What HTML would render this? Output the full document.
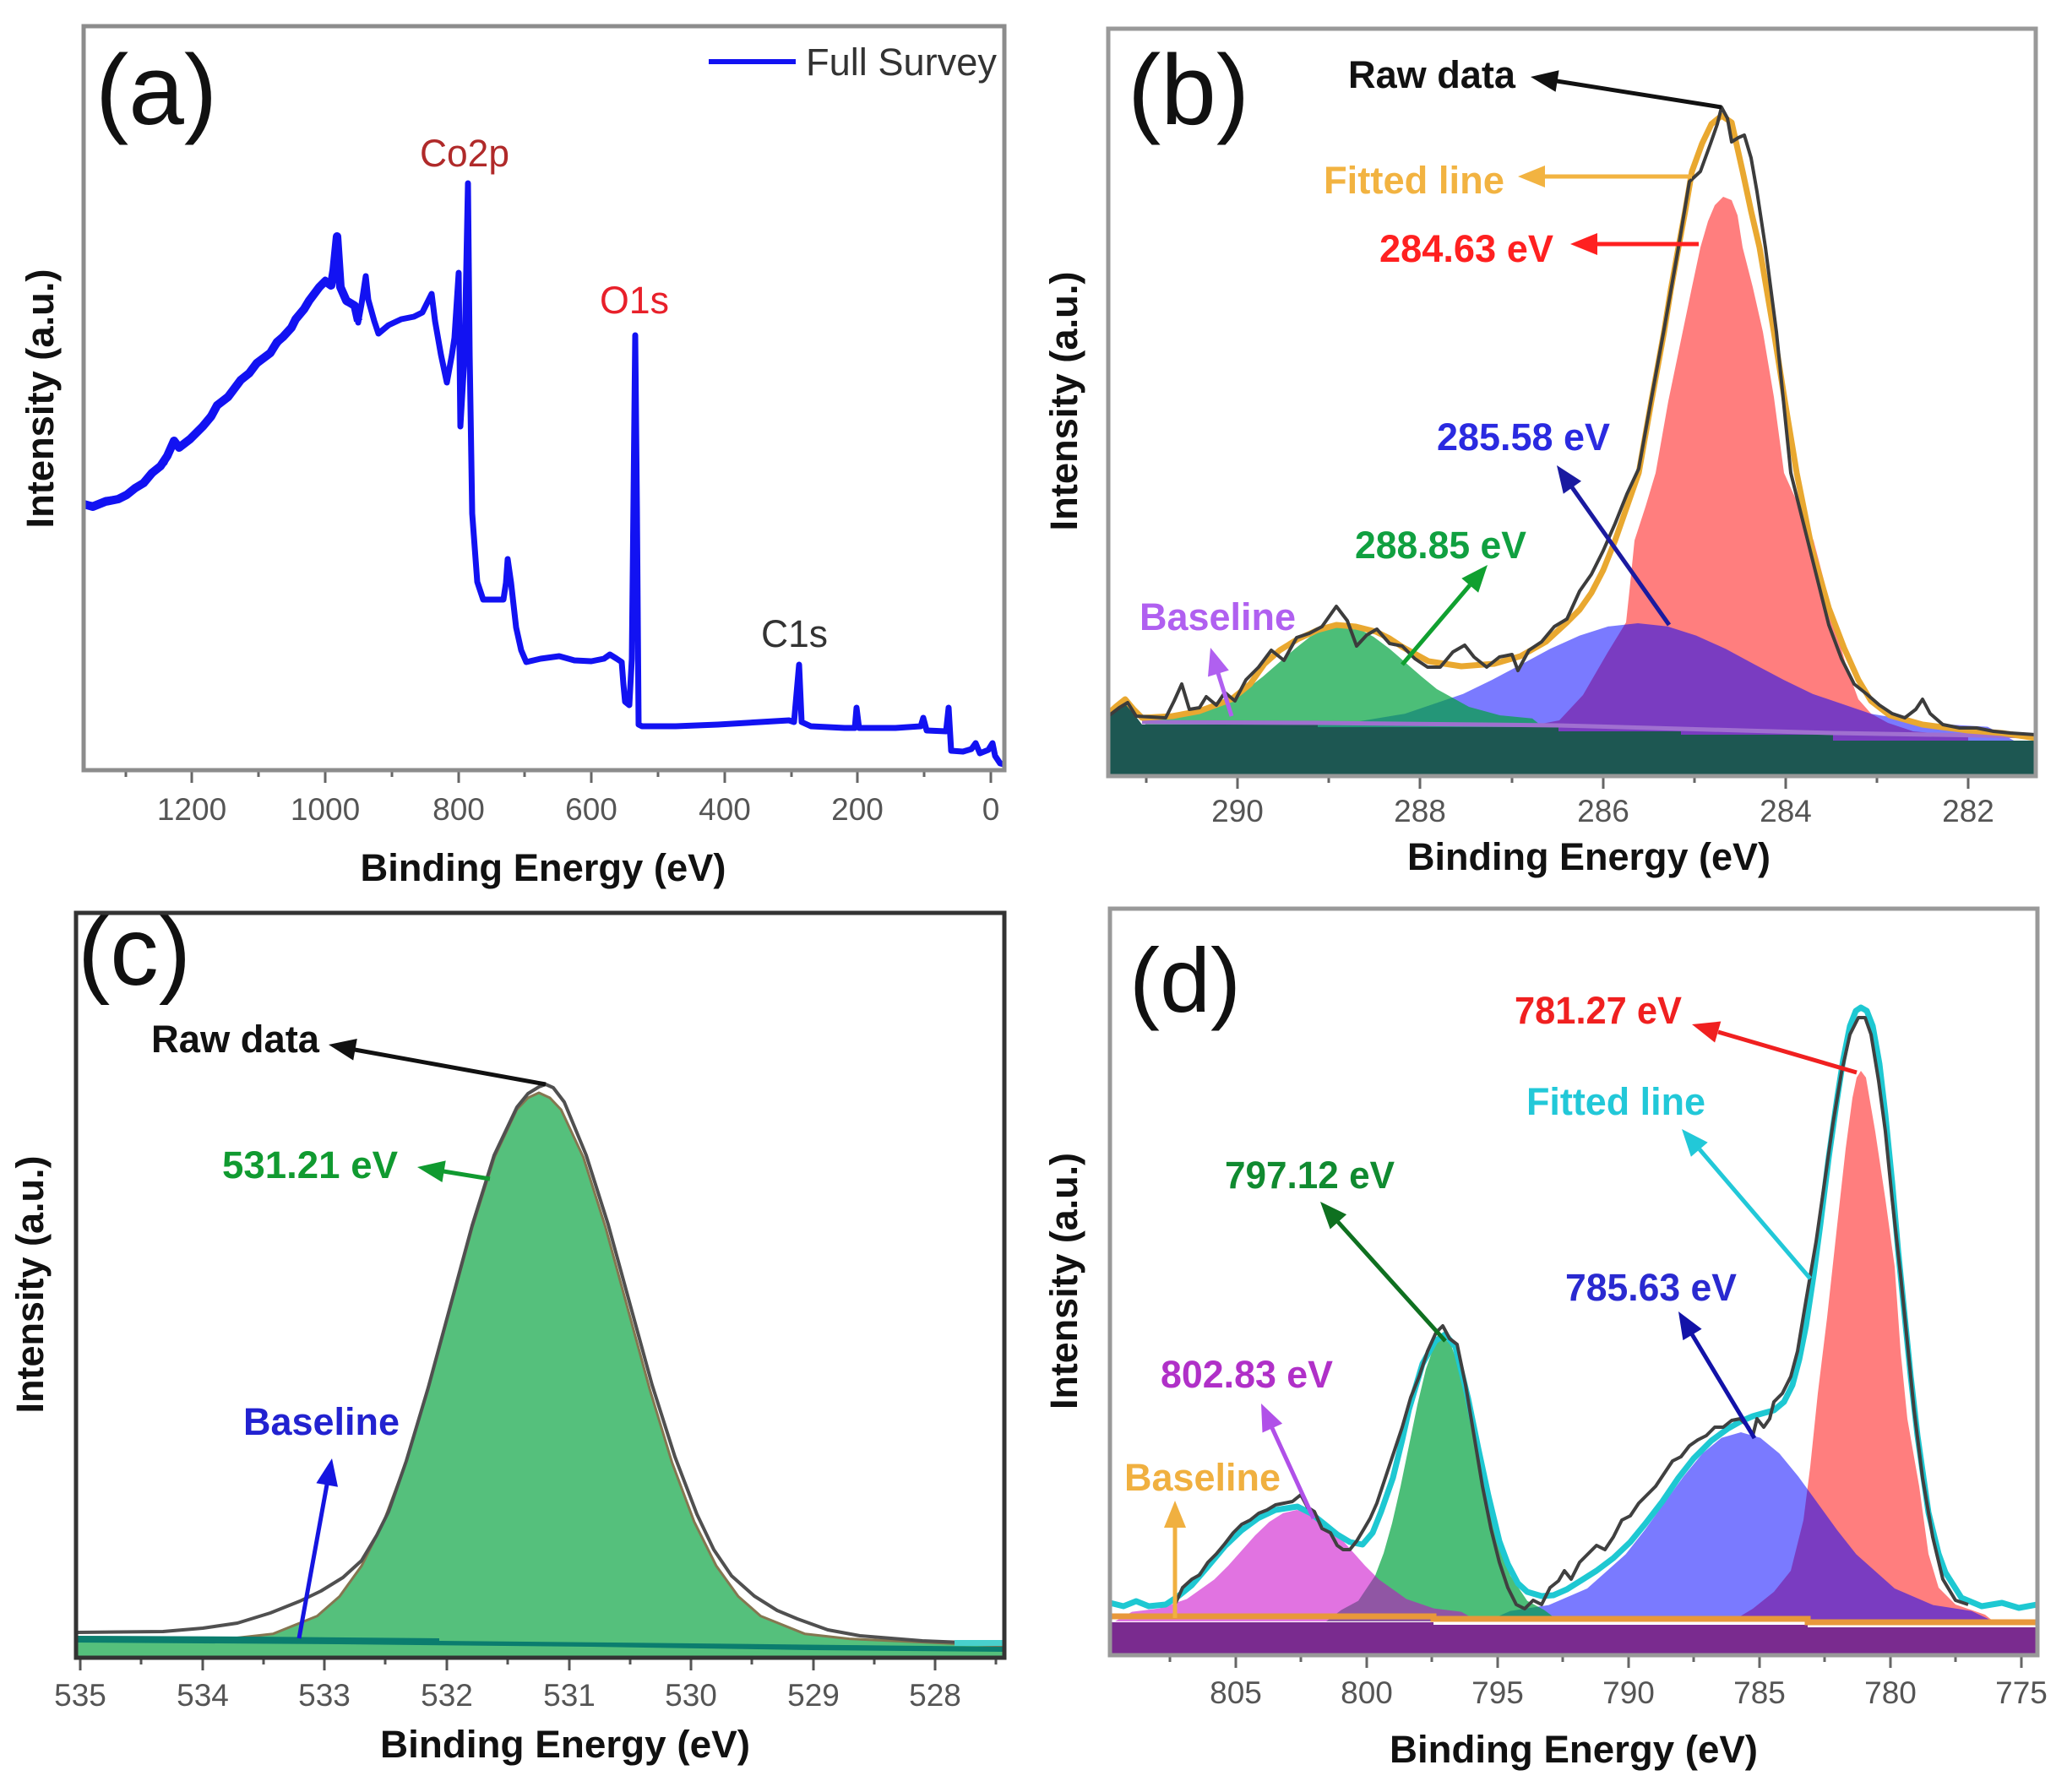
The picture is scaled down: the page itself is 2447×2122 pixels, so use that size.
<!DOCTYPE html>
<html><head><meta charset="utf-8"><style>
html,body{margin:0;padding:0;background:#fff;}
body{width:2447px;height:2122px;overflow:hidden;}
svg{display:block;}
.tl{font-family:"Liberation Sans",Arial,sans-serif;font-size:37px;fill:#555;text-anchor:middle;}
.at{font-family:"Liberation Sans",Arial,sans-serif;font-size:45px;font-weight:bold;fill:#111;text-anchor:middle;}
.an{font-family:"Liberation Sans",Arial,sans-serif;font-size:45px;font-weight:bold;}
.pl{font-family:"Liberation Sans",Arial,sans-serif;fill:#111;}
.lab{font-family:"Liberation Sans",Arial,sans-serif;font-size:45px;}
</style></head><body>
<svg width="2447" height="2122" viewBox="0 0 2447 2122" xmlns="http://www.w3.org/2000/svg">
<defs>
<clipPath id="ca"><rect x="99" y="31" width="1090" height="881"/></clipPath>
<clipPath id="cb"><rect x="1312" y="34" width="1098" height="885"/></clipPath>
<clipPath id="cc"><rect x="90" y="1081" width="1099" height="882"/></clipPath>
<clipPath id="cd"><rect x="1314" y="1076" width="1098" height="884"/></clipPath>
</defs>
<rect width="2447" height="2122" fill="#fff"/>

<!-- ================= (a) ================= -->
<g clip-path="url(#ca)">
<polyline fill="none" stroke="#1212f2" stroke-width="10" stroke-linejoin="round" points="99,597 110,600 125,594 140,591 150,586 160,578 170,572 180,560 190,552 198,540 206,522 212,530 225,520 240,505 250,493 257,480 270,470 285,450 295,442 304,430 320,418 328,405 335,399 345,388 350,378 360,366 366,356 378,340 385,333 392,338 395,320 399,280 403,340 410,356 420,362 424,380"/>
<polyline fill="none" stroke="#1212f2" stroke-width="7" stroke-linejoin="round" points="99,597 110,598 125,592 140,590 150,585 165,575 180,562 195,548 202,530 206,522 212,528 225,520 240,505 257,480 270,468 285,450 304,432 320,418 335,399 350,380 366,358 378,340 385,331 392,338 399,280 403,340 410,358 420,362 424,382 428,360 433,327 436,355 443,380 448,395 460,385 475,378 490,375 500,370 511,348 515,380 522,420 529,453 535,420 538,400 543,323 545,505 550,420 554,217 556,420 559,608 565,689 572,710 596,710 599,690 601,662 605,690 611,743 617,770 623,784 640,780 662,777 680,782 700,783 715,780 722,775 730,780 736,784 738,810 740,831 745,835 748,780 752,397 754,600 756,858 760,860 800,860 850,858 900,855 934,853 940,855 946,787 949,855 960,860 1000,862 1012,862 1014,838 1017,862 1060,862 1090,860 1093,850 1097,865 1120,866 1123,838 1126,889 1140,890 1150,887 1155,880 1160,892 1170,888 1175,880 1178,895 1184,904 1192,906"/>
</g>
<line x1="839" y1="73" x2="942" y2="73" stroke="#1212f2" stroke-width="6"/>
<text class="lab" x="954" y="89" fill="#333" textLength="226" lengthAdjust="spacingAndGlyphs">Full Survey</text>
<text class="lab" x="497" y="197" fill="#b02a2a" textLength="106" lengthAdjust="spacingAndGlyphs">Co2p</text>
<text class="lab" x="710" y="371" fill="#e8202a" textLength="82" lengthAdjust="spacingAndGlyphs">O1s</text>
<text class="lab" x="901" y="766" fill="#333" textLength="79" lengthAdjust="spacingAndGlyphs">C1s</text>
<text class="pl" x="113" y="147" font-size="118">(a)</text>
<g stroke="#666" stroke-width="3">
<line x1="1173" y1="912" x2="1173" y2="927"/><line x1="1015" y1="912" x2="1015" y2="927"/><line x1="858" y1="912" x2="858" y2="927"/><line x1="700" y1="912" x2="700" y2="927"/><line x1="543" y1="912" x2="543" y2="927"/><line x1="385" y1="912" x2="385" y2="927"/><line x1="227" y1="912" x2="227" y2="927"/>
<line x1="1094" y1="912" x2="1094" y2="920"/><line x1="937" y1="912" x2="937" y2="920"/><line x1="779" y1="912" x2="779" y2="920"/><line x1="621" y1="912" x2="621" y2="920"/><line x1="464" y1="912" x2="464" y2="920"/><line x1="306" y1="912" x2="306" y2="920"/><line x1="149" y1="912" x2="149" y2="920"/>
</g>
<text class="tl" x="1173" y="971">0</text><text class="tl" x="1015" y="971">200</text><text class="tl" x="858" y="971">400</text><text class="tl" x="700" y="971">600</text><text class="tl" x="543" y="971">800</text><text class="tl" x="385" y="971">1000</text><text class="tl" x="227" y="971">1200</text>
<text class="at" x="643" y="1043" textLength="433" lengthAdjust="spacingAndGlyphs">Binding Energy (eV)</text>
<text class="at" transform="translate(63,472) rotate(-90)" textLength="307" lengthAdjust="spacingAndGlyphs">Intensity (a.u.)</text>
<rect x="99" y="31" width="1090" height="881" fill="none" stroke="#8c8c8c" stroke-width="5"/>

<!-- ================= (b) ================= -->
<g clip-path="url(#cb)">
<polygon fill="#ff7e7e" points="1780,880 1780,864 1820,858 1846,853 1874,823 1903,773 1925,737 1930,690 1935,640 1948,600 1960,560 1975,475 1992,393 2003,340 2013,293 2022,262 2030,243 2040,233 2050,237 2057,255 2063,293 2075,340 2087,393 2100,470 2112,560 2130,600 2147,640 2160,690 2172,740 2186,790 2200,828 2215,845 2235,856 2265,866 2330,872 2330,880"/>
<polygon fill="#0000ff" fill-opacity="0.52" points="1487,880 1525,860.6 1594,856.6 1663,845.2 1732,821.7 1766,805.2 1801,786.8 1835,768.4 1870,752.6 1904,741.8 1939,738 1974,741.8 2008,752.6 2043,768.4 2077,786.8 2112,805.2 2146,821.7 2215,845.2 2284,856.6 2353,860.6 2390,880"/>
<polygon fill="#00a33e" fill-opacity="0.7" points="1330,880 1364,850.8 1401,847.1 1439,837 1476,816 1495,801.2 1514,784.7 1533,768.2 1551,754 1570,744.4 1589,741 1608,744.4 1626,754 1645,768.2 1664,784.7 1683,801.2 1701,816 1739,837 1776,847.1 1814,850.8 1850,880"/>
<polygon fill="#1d5752" points="1312,919 1312,852 1322,838 1332,830 1342,845 1352,858 1560,858 1560,861 1845,861 1845,866 1990,866 1990,870 2170,870 2170,877 2410,877 2410,919"/>
<polyline fill="none" stroke="#a070d0" stroke-width="5" points="1352,855 1560,856 1845,859 1990,863 2170,868 2410,872"/>
<polyline fill="none" stroke="#e9a830" stroke-width="7" stroke-linejoin="round" points="1312,845 1322,836 1332,828 1342,840 1352,850 1388,848 1420,842 1458,828 1480,810 1497,786 1515,770 1536,757 1560,746 1582,740 1605,742 1629,748 1645,756 1660,766 1691,783 1730,789 1769,786 1800,777 1830,760 1855,737 1870,722 1884,702 1898,675 1912,640 1926,600 1940,560 1955,475 1970,393 1978,343 1987,293 1995,250 2003,203 2015,170 2026,147 2038,137 2050,145 2063,203 2073,250 2083,293 2100,393 2113,475 2127,560 2145,650 2165,720 2183,767 2200,805 2215,830 2237,847 2276,858 2330,865 2370,868 2410,874"/>
<polyline fill="none" stroke="#3c3c3c" stroke-width="4" stroke-linejoin="round" points="1312,848 1325,838 1335,832 1345,848 1380,850 1390,830 1399,810 1408,840 1420,838 1428,825 1440,835 1450,820 1462,830 1475,805 1490,790 1505,770 1520,782 1535,755 1550,750 1565,742 1582,718 1595,735 1606,765 1618,752 1630,745 1645,762 1660,765 1675,780 1690,790 1705,790 1720,772 1734,764 1745,778 1760,790 1775,778 1790,775 1797,794 1810,770 1825,760 1840,742 1855,733 1870,700 1884,680 1898,652 1912,620 1926,585 1940,555 1955,472 1970,390 1987,293 2000,215 2013,203 2025,170 2033,147 2038,127 2045,140 2050,168 2058,163 2065,160 2073,187 2080,227 2090,293 2103,393 2120,560 2135,620 2150,680 2165,740 2180,780 2195,810 2210,822 2225,835 2240,845 2255,850 2268,840 2276,828 2285,845 2300,858 2320,862 2340,862 2360,866 2380,868 2410,870"/>
</g>
<!-- annotations b -->
<text class="an" x="1596" y="104" fill="#111" textLength="198" lengthAdjust="spacingAndGlyphs">Raw data</text>
<line x1="2038" y1="127" x2="1843" y2="96" stroke="#111" stroke-width="5"/>
<polygon fill="#111" points="1812,91 1845.6,83.2 1841.6,108.8"/>
<text class="an" x="1567" y="229" fill="#f2b341" textLength="214" lengthAdjust="spacingAndGlyphs">Fitted line</text>
<line x1="2003" y1="209" x2="1829" y2="209" stroke="#f2b341" stroke-width="5"/>
<polygon fill="#f2b341" points="1797,209 1829,196 1829,222"/>
<text class="an" x="1633" y="310" fill="#ff2020" textLength="206" lengthAdjust="spacingAndGlyphs">284.63 eV</text>
<line x1="2011" y1="289" x2="1891" y2="289" stroke="#ff2020" stroke-width="5"/>
<polygon fill="#ff2020" points="1859,289 1891,276 1891,302"/>
<text class="an" x="1701" y="533" fill="#2a2ae0" textLength="205" lengthAdjust="spacingAndGlyphs">285.58 eV</text>
<line x1="1976" y1="740" x2="1861" y2="577" stroke="#1a1aa0" stroke-width="5"/>
<polygon fill="#1a1aa0" points="1843,551 1872,569.7 1850.8,584.7"/>
<text class="an" x="1604" y="661" fill="#10a040" textLength="203" lengthAdjust="spacingAndGlyphs">288.85 eV</text>
<line x1="1660" y1="787" x2="1740" y2="693" stroke="#10a030" stroke-width="5"/>
<polygon fill="#10a030" points="1761,669 1750.1,701.8 1730.3,684.9"/>
<text class="an" x="1349" y="746" fill="#b060f0" textLength="185" lengthAdjust="spacingAndGlyphs">Baseline</text>
<line x1="1458" y1="848" x2="1442" y2="797" stroke="#b060f0" stroke-width="5"/>
<polygon fill="#b060f0" points="1433,767 1454.8,793.8 1430,801.4"/>
<text class="pl" x="1335" y="147" font-size="118">(b)</text>
<g stroke="#666" stroke-width="3">
<line x1="1465" y1="919" x2="1465" y2="934"/><line x1="1681" y1="919" x2="1681" y2="934"/><line x1="1898" y1="919" x2="1898" y2="934"/><line x1="2114" y1="919" x2="2114" y2="934"/><line x1="2330" y1="919" x2="2330" y2="934"/>
<line x1="1357" y1="919" x2="1357" y2="927"/><line x1="1573" y1="919" x2="1573" y2="927"/><line x1="1790" y1="919" x2="1790" y2="927"/><line x1="2006" y1="919" x2="2006" y2="927"/><line x1="2222" y1="919" x2="2222" y2="927"/>
</g>
<text class="tl" x="1465" y="973">290</text><text class="tl" x="1681" y="973">288</text><text class="tl" x="1898" y="973">286</text><text class="tl" x="2114" y="973">284</text><text class="tl" x="2330" y="973">282</text>
<text class="at" x="1881" y="1030" textLength="430" lengthAdjust="spacingAndGlyphs">Binding Energy (eV)</text>
<text class="at" transform="translate(1275,475) rotate(-90)" textLength="307" lengthAdjust="spacingAndGlyphs">Intensity (a.u.)</text>
<rect x="1312" y="34" width="1098" height="885" fill="none" stroke="#999" stroke-width="5"/>

<!-- ================= (c) ================= -->
<g clip-path="url(#cc)">
<polygon fill="#55c07c" points="90,1965 90,1942 270.5,1940.6 323,1934.8 375.5,1913.6 402,1890.4 428,1854.3 454.25,1801.8 480.5,1731.6 506.75,1645.3 533,1549 559.25,1452.9 585.5,1370.1 611.75,1314 625,1300 638,1294 651,1300 664.25,1314 690.5,1370.1 716.75,1452.9 743,1549 769.25,1645.3 795.5,1731.6 821.75,1801.8 848,1854.3 874,1890.4 900.5,1913.6 953,1934.8 1005.5,1940.6 1189,1950 1189,1965"/>
<polyline fill="none" stroke="#857650" stroke-width="3" stroke-linejoin="round" points="90,1941 270.5,1940.6 323,1934.8 375.5,1913.6 402,1890.4 428,1854.3 454.25,1801.8 480.5,1731.6 506.75,1645.3 533,1549 559.25,1452.9 585.5,1370.1 611.75,1314 625,1300 638,1294 651,1300 664.25,1314 690.5,1370.1 716.75,1452.9 743,1549 769.25,1645.3 795.5,1731.6 821.75,1801.8 848,1854.3 874,1890.4 900.5,1913.6 953,1934.8 1005.5,1940.6 1189,1949"/>
<polyline fill="none" stroke="#505050" stroke-width="4" stroke-linejoin="round" points="92,1933 193,1932 240,1928 281,1922 320,1910 355,1896 380,1884 406,1868 428,1848 446,1818 460,1790 481,1730 507,1643 533,1547 559,1451 585,1368 612,1311 625,1295 638,1287 646,1284 655,1288 668,1305 694,1368 720,1450 746,1545 772,1640 799,1725 825,1793 845,1835 866,1866 893,1890 920,1907 944,1917 980,1930 1018,1937 1092,1943 1189,1947"/>
<polygon fill="#0b7d6e" points="90,1937 300,1938 520,1940 520,1943 820,1946 1000,1948 1189,1950 1189,1956 960,1954 700,1950 400,1947 90,1945"/>
<rect x="1130" y="1942" width="59" height="7" fill="#48d0cc"/>
</g>
<text class="an" x="179" y="1246" fill="#111" textLength="199" lengthAdjust="spacingAndGlyphs">Raw data</text>
<line x1="646" y1="1284" x2="420" y2="1243" stroke="#111" stroke-width="5"/>
<polygon fill="#111" points="389,1237 422.8,1230 418.2,1255.6"/>
<text class="an" x="263" y="1395" fill="#109a30" textLength="208" lengthAdjust="spacingAndGlyphs">531.21 eV</text>
<line x1="580" y1="1396" x2="525" y2="1387" stroke="#109a30" stroke-width="5"/>
<polygon fill="#109a30" points="494,1382 527.7,1374.4 523.5,1400"/>
<text class="an" x="288" y="1699" fill="#2222d0" textLength="185" lengthAdjust="spacingAndGlyphs">Baseline</text>
<line x1="354" y1="1940" x2="387" y2="1758" stroke="#1515e0" stroke-width="5"/>
<polygon fill="#1515e0" points="393,1727 400,1760.8 374.4,1756.2"/>
<text class="pl" x="92" y="1166" font-size="115">(c)</text>
<g stroke="#555" stroke-width="3">
<line x1="95" y1="1963" x2="95" y2="1978"/><line x1="240" y1="1963" x2="240" y2="1978"/><line x1="384" y1="1963" x2="384" y2="1978"/><line x1="529" y1="1963" x2="529" y2="1978"/><line x1="674" y1="1963" x2="674" y2="1978"/><line x1="818" y1="1963" x2="818" y2="1978"/><line x1="963" y1="1963" x2="963" y2="1978"/><line x1="1107" y1="1963" x2="1107" y2="1978"/>
<line x1="167" y1="1963" x2="167" y2="1971"/><line x1="312" y1="1963" x2="312" y2="1971"/><line x1="456" y1="1963" x2="456" y2="1971"/><line x1="601" y1="1963" x2="601" y2="1971"/><line x1="746" y1="1963" x2="746" y2="1971"/><line x1="890" y1="1963" x2="890" y2="1971"/><line x1="1035" y1="1963" x2="1035" y2="1971"/><line x1="1179" y1="1963" x2="1179" y2="1971"/>
</g>
<text class="tl" x="95" y="2020">535</text><text class="tl" x="240" y="2020">534</text><text class="tl" x="384" y="2020">533</text><text class="tl" x="529" y="2020">532</text><text class="tl" x="674" y="2020">531</text><text class="tl" x="818" y="2020">530</text><text class="tl" x="963" y="2020">529</text><text class="tl" x="1107" y="2020">528</text>
<text class="at" x="669" y="2081" textLength="438" lengthAdjust="spacingAndGlyphs">Binding Energy (eV)</text>
<text class="at" transform="translate(51,1521) rotate(-90)" textLength="305" lengthAdjust="spacingAndGlyphs">Intensity (a.u.)</text>
<rect x="90" y="1081" width="1099" height="882" fill="none" stroke="#333" stroke-width="5"/>

<!-- ================= (d) ================= -->
<g clip-path="url(#cd)">
<polygon fill="#ff7e7e" points="2050,1920 2075,1905 2100,1885 2120,1860 2135,1800 2143,1737 2152,1650 2163,1560 2175,1450 2185,1360 2193,1300 2198,1276 2203,1268 2209,1276 2220,1340 2232,1420 2243,1500 2250,1600 2258,1680 2272,1760 2283,1840 2295,1880 2315,1900 2350,1912 2360,1920"/>
<polygon fill="#0000ff" fill-opacity="0.52" points="1760,1920 1788,1907.6 1833.5,1900.6 1879,1881 1924.5,1840.5 1947,1812 1970,1780.2 1993,1748.5 2015.5,1721.1 2038,1702.6 2061,1696 2084,1702.6 2106.5,1721.1 2129,1748.5 2152,1780.2 2175,1812 2197.5,1840.5 2243,1881 2288.5,1900.6 2334,1907.6 2360,1920"/>
<polygon fill="#00a33e" fill-opacity="0.7" points="1570,1920 1588,1906.4 1608,1895.6 1628,1865.8 1638,1839.3 1648,1803.8 1658,1760.3 1668,1711.7 1678,1663.2 1688,1621.4 1698,1593.1 1708,1583 1718,1593.1 1728,1621.4 1738,1663.2 1748,1711.7 1758,1760.3 1768,1803.8 1778,1839.3 1788,1865.8 1808,1895.6 1828,1906.4 1846,1920"/>
<polygon fill="#c800c8" fill-opacity="0.55" points="1320,1920 1340,1908.6 1372.5,1904.6 1405,1893.5 1437.5,1870.4 1454,1854 1470,1836 1486,1818 1502.5,1802.3 1519,1791.8 1535,1788 1551,1791.8 1567.5,1802.3 1584,1818 1600,1836 1616,1854 1632.5,1870.4 1665,1893.5 1697.5,1904.6 1730,1908.6 1750,1920"/>
<polygon fill="#7a2b8f" points="1314,1960 1314,1921 1697,1921 1697,1924 2140,1924 2140,1927 2412,1927 2412,1960"/>
<polyline fill="none" stroke="#e8983a" stroke-width="7" points="1314,1914 1697,1914 1697,1917 2140,1917 2140,1921 2412,1921"/>
<polyline fill="none" stroke="#1ec8d2" stroke-width="7" stroke-linejoin="round" points="1314,1898 1330,1902 1345,1896 1360,1902 1380,1900 1395,1890 1411,1877 1430,1855 1450,1831 1470,1812 1489,1798 1510,1788 1536,1784 1552,1792 1567,1804 1583,1817 1598,1826 1613,1829 1625,1815 1635,1790 1649,1750 1660,1705 1668,1669 1684,1615 1699,1588 1711,1580 1723,1595 1738,1656 1750,1715 1762,1771 1775,1825 1785,1852 1797,1875 1808,1885 1825,1890 1839,1889 1855,1882 1871,1872 1890,1860 1910,1845 1930,1826 1948,1804 1968,1778 1987,1750 2005,1727 2026,1706 2045,1692 2061,1683 2075,1677 2089,1673 2100,1670 2112,1660 2122,1640 2130,1610 2138,1570 2147,1510 2155,1450 2165,1370 2175,1300 2182,1255 2190,1215 2197,1197 2203,1193 2210,1197 2217,1215 2225,1260 2232,1320 2240,1400 2247,1480 2255,1560 2262,1630 2270,1700 2283,1791 2295,1840 2303,1862 2322,1892 2346,1902 2370,1898 2390,1904 2412,1900"/>
<polyline fill="none" stroke="#404040" stroke-width="4" stroke-linejoin="round" points="1391,1900 1400,1880 1411,1870 1420,1865 1430,1850 1440,1840 1450,1828 1460,1815 1470,1805 1480,1800 1490,1792 1500,1788 1510,1782 1520,1780 1530,1778 1540,1770 1548,1785 1556,1790 1565,1810 1575,1815 1583,1830 1590,1835 1598,1835 1606,1825 1615,1810 1622,1798 1630,1780 1640,1750 1650,1720 1660,1690 1670,1655 1680,1630 1690,1600 1700,1578 1708,1570 1716,1585 1725,1592 1735,1640 1745,1700 1755,1760 1765,1810 1775,1850 1785,1880 1795,1900 1805,1905 1815,1895 1825,1900 1835,1880 1845,1872 1852,1860 1860,1870 1870,1850 1880,1840 1890,1830 1900,1835 1910,1820 1920,1800 1930,1795 1940,1780 1950,1770 1960,1760 1970,1745 1980,1730 1990,1725 2000,1712 2010,1705 2020,1700 2030,1690 2040,1690 2050,1682 2060,1680 2070,1690 2075,1700 2080,1680 2088,1690 2095,1680 2100,1660 2110,1650 2120,1630 2128,1600 2138,1540 2150,1470 2160,1400 2170,1330 2180,1270 2190,1225 2200,1205 2208,1205 2215,1225 2224,1280 2232,1340 2240,1420 2250,1510 2258,1590 2266,1670 2276,1750 2288,1820 2300,1870 2315,1895 2330,1900"/>
</g>
<text class="an" x="1793" y="1212" fill="#f02020" textLength="198" lengthAdjust="spacingAndGlyphs">781.27 eV</text>
<line x1="2198" y1="1270" x2="2034" y2="1222" stroke="#f02020" stroke-width="5"/>
<polygon fill="#f02020" points="2003,1213 2037.3,1209.5 2030.1,1234.5"/>
<text class="an" x="1807" y="1320" fill="#22c8d8" textLength="212" lengthAdjust="spacingAndGlyphs">Fitted line</text>
<line x1="2143" y1="1514" x2="2012" y2="1361" stroke="#22c8d8" stroke-width="5"/>
<polygon fill="#22c8d8" points="1991,1337 2021.7,1352.8 2001.9,1369.8"/>
<text class="an" x="1450" y="1407" fill="#108a30" textLength="201" lengthAdjust="spacingAndGlyphs">797.12 eV</text>
<line x1="1711" y1="1588" x2="1584" y2="1447" stroke="#0f7020" stroke-width="5"/>
<polygon fill="#0f7020" points="1563,1423 1594.1,1438.1 1574.7,1455.5"/>
<text class="an" x="1853" y="1540" fill="#2a2ad0" textLength="203" lengthAdjust="spacingAndGlyphs">785.63 eV</text>
<line x1="2077" y1="1703" x2="2003" y2="1580" stroke="#1212a8" stroke-width="5"/>
<polygon fill="#1212a8" points="1987,1553 2014.6,1573.7 1992.4,1587.1"/>
<text class="an" x="1374" y="1643" fill="#b030c8" textLength="204" lengthAdjust="spacingAndGlyphs">802.83 eV</text>
<line x1="1555" y1="1798" x2="1506" y2="1691" stroke="#b050e8" stroke-width="5"/>
<polygon fill="#b050e8" points="1493,1662 1518.1,1685.7 1494.5,1696.5"/>
<text class="an" x="1331" y="1765" fill="#f0b040" textLength="185" lengthAdjust="spacingAndGlyphs">Baseline</text>
<line x1="1391" y1="1916" x2="1391" y2="1809" stroke="#f0b040" stroke-width="5"/>
<polygon fill="#f0b040" points="1391,1777 1404,1809 1378,1809"/>
<text class="pl" x="1337" y="1198" font-size="108">(d)</text>
<g stroke="#666" stroke-width="3">
<line x1="1463" y1="1960" x2="1463" y2="1975"/><line x1="1618" y1="1960" x2="1618" y2="1975"/><line x1="1773" y1="1960" x2="1773" y2="1975"/><line x1="1928" y1="1960" x2="1928" y2="1975"/><line x1="2083" y1="1960" x2="2083" y2="1975"/><line x1="2238" y1="1960" x2="2238" y2="1975"/><line x1="2393" y1="1960" x2="2393" y2="1975"/>
<line x1="1385" y1="1960" x2="1385" y2="1968"/><line x1="1540" y1="1960" x2="1540" y2="1968"/><line x1="1695" y1="1960" x2="1695" y2="1968"/><line x1="1850" y1="1960" x2="1850" y2="1968"/><line x1="2005" y1="1960" x2="2005" y2="1968"/><line x1="2160" y1="1960" x2="2160" y2="1968"/><line x1="2315" y1="1960" x2="2315" y2="1968"/>
</g>
<text class="tl" x="1463" y="2017">805</text><text class="tl" x="1618" y="2017">800</text><text class="tl" x="1773" y="2017">795</text><text class="tl" x="1928" y="2017">790</text><text class="tl" x="2083" y="2017">785</text><text class="tl" x="2238" y="2017">780</text><text class="tl" x="2393" y="2017">775</text>
<text class="at" x="1863" y="2087" textLength="436" lengthAdjust="spacingAndGlyphs">Binding Energy (eV)</text>
<text class="at" transform="translate(1275,1517) rotate(-90)" textLength="304" lengthAdjust="spacingAndGlyphs">Intensity (a.u.)</text>
<rect x="1314" y="1076" width="1098" height="884" fill="none" stroke="#999" stroke-width="5"/>
</svg>
</body></html>
